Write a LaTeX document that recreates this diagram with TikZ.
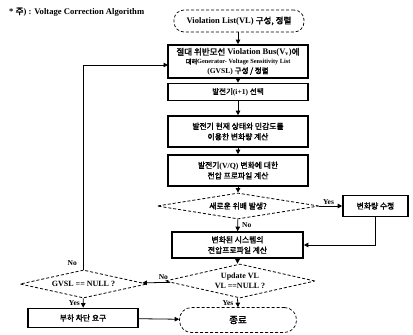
\documentclass[tikz,border=0pt]{standalone}
\usepackage{fontspec}
\setmainfont{Liberation Serif}
\newfontfamily\kr[AutoFakeBold=2]{Noto Sans CJK KR}
\usetikzlibrary{shapes.geometric,arrows.meta}
\newcommand{\K}[1]{{\kr\bfseries #1}}
\begin{document}
\begin{tikzpicture}[x=1pt,y=-1pt,
  every node/.style={font=\fontsize{8.5}{10.5}\selectfont\bfseries, align=center, inner sep=0pt},
  procbox/.style={draw, line width=1.6pt, rectangle},
  termbox/.style={draw, densely dashed, line width=0.7pt, rounded corners=10pt},
  decbox/.style={draw, densely dashed, line width=0.8pt, diamond},
  arr/.style={-{Triangle[length=4.5pt,width=4.5pt]}, line width=0.8pt},
  lbl/.style={font=\fontsize{7.5}{9}\selectfont\bfseries}]
\useasboundingbox (0,0) rectangle (413,335);

\node[anchor=west, font=\fontsize{8.6}{10}\selectfont\bfseries] (title) at (9,12) {* \K{주}) : Voltage Correction Algorithm};

\node[termbox, minimum width=130pt, minimum height=22pt] (start) at (239,21) {Violation List(VL) \K{구성, 정렬}};

\node[procbox, minimum width=140pt, minimum height=33pt] (b1) at (238,61.5)
  {\K{절대 위반모선} Violation Bus(V$_{\mathbf v}$)\K{에}\\[-1.5pt]
   {\fontsize{6.3}{7.5}\selectfont\K{대해}Generator- Voltage Sensitivity List}\\[-1pt]
   {\fontsize{7.5}{9}\selectfont (GVSL) \K{구성 / 정렬}}};

\node[procbox, minimum width=140pt, minimum height=17pt] (b2) at (238,92)
  {\fontsize{7.5}{9}\selectfont\K{발전기}(i+1) \K{선택}};

\node[procbox, minimum width=140pt, minimum height=31pt] (b3) at (238,131.5)
  {\fontsize{7.8}{11}\selectfont\K{발전기 현재 상태와 민감도를}\\\fontsize{7.8}{11}\selectfont\K{이용한 변화량 계산}};

\node[procbox, minimum width=140pt, minimum height=31pt] (b4) at (238,170.5)
  {\fontsize{7.8}{11}\selectfont\K{발전기}(V/Q) \K{변화에 대한}\\\fontsize{7.8}{11}\selectfont\K{전압 프로파일 계산}};

\node[decbox, minimum width=162pt, minimum height=26pt, aspect=6.2] (d1) at (238,206)
  {\fontsize{7.8}{9}\selectfont\K{새로운 위배 발생?}};

\node[procbox, minimum width=65pt, minimum height=21pt] (r1) at (375.5,206)
  {\fontsize{7.8}{9}\selectfont\K{변화량 수정}};

\node[procbox, minimum width=131pt, minimum height=26pt] (b5) at (237.5,245)
  {\fontsize{7.8}{10.5}\selectfont\K{변화된 시스템의}\\\fontsize{7.8}{10.5}\selectfont\K{전압프로파일 계산}};

\node[decbox, minimum width=150pt, minimum height=34pt, aspect=4.4] (d2) at (240,281)
  {\fontsize{8}{11}\selectfont Update VL\\\fontsize{8}{11}\selectfont VL ==NULL ?};

\node[decbox, minimum width=127pt, minimum height=28pt, aspect=4.5] (d3) at (83.5,284)
  {\fontsize{8}{9}\selectfont GVSL == NULL ?};

\node[procbox, minimum width=110pt, minimum height=19pt] (b6) at (83,318)
  {\fontsize{7.8}{9}\selectfont\K{부하 차단 요구}};

\node[termbox, minimum width=117pt, minimum height=25pt, rounded corners=12pt] (end) at (238,320)
  {\fontsize{9.5}{11}\selectfont\K{종료}};

\coordinate (lp) at (168,65);
\coordinate (noloop) at (77,263);

\draw[arr] (start.south -| b1.north) -- (b1.north);
\draw[arr] (b1) -- (b2);
\draw[arr] (b2) -- (b3);
\draw[arr] (b3) -- (b4);
\draw[arr] (b4) -- (d1);
\draw[arr] (d1) -- node[lbl, above=1.5pt, pos=0.4] {Yes} (r1);
\draw[arr] (r1.south) |- (b5.east);
\draw[arr] (d1) -- node[lbl, right=4pt] {No} (b5);
\draw[arr] (b5.south) -- (b5.south |- d2.north);
\draw[arr] (d2) -- node[lbl, above=2.5pt, pos=0.0, anchor=south east, xshift=-2pt] {No} (d3);
\draw[arr] (b5.south |- d2.south) -- node[lbl, left=4pt] {Yes} (end.north);
\draw[arr] (d3.north) |- (lp);
\node[lbl, anchor=east] at (noloop) {No};
\draw[arr] (d3) -- node[lbl, left=3pt] {Yes} (b6);
\draw[arr] (b6) -- (end);
\end{tikzpicture}
\end{document}
